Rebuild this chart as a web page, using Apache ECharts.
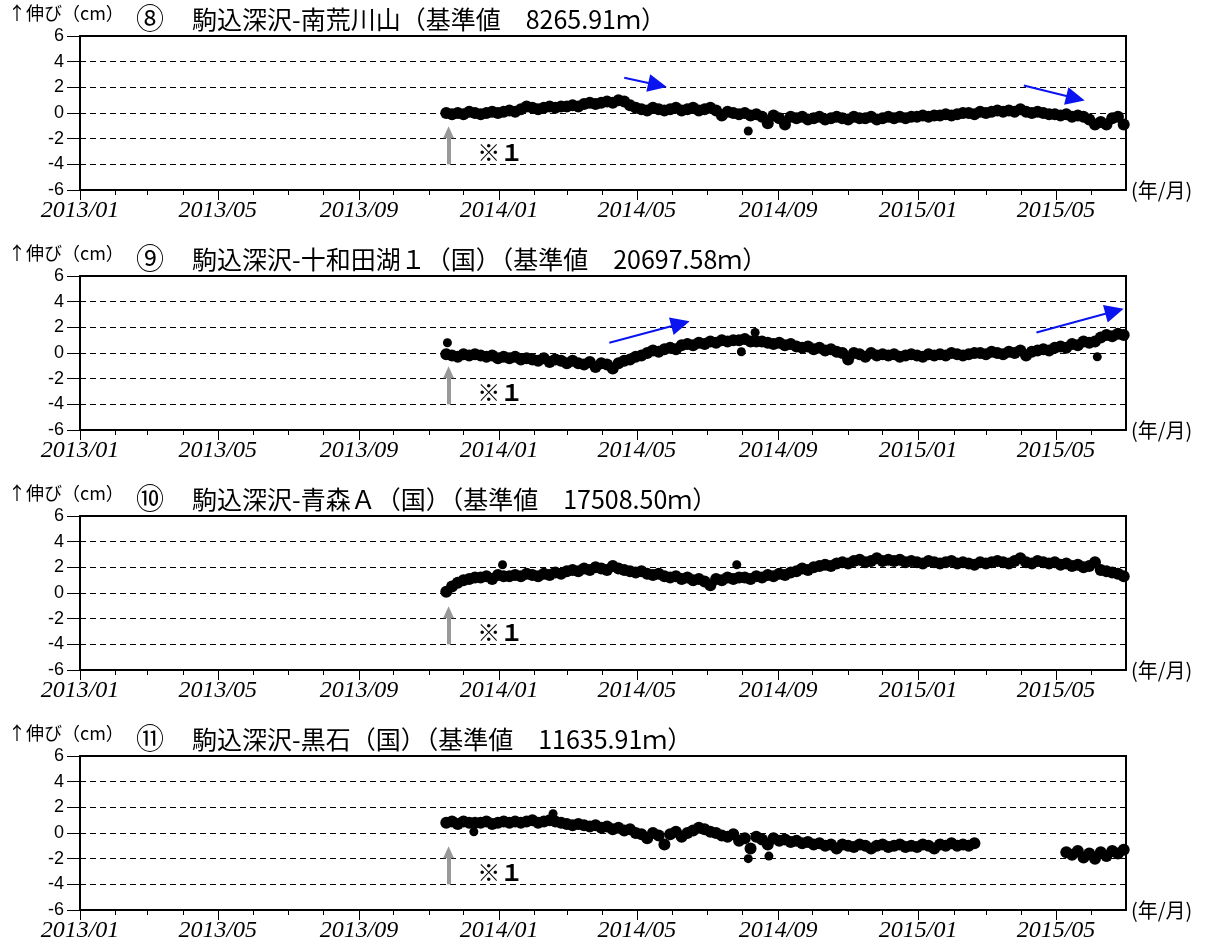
<!DOCTYPE html>
<html><head><meta charset="utf-8">
<script src="https://cdn.jsdelivr.net/npm/echarts@6/dist/echarts.min.js"></script>
<style>html,body{margin:0;padding:0;background:#fff}#c{width:1210px;height:946px}</style>
</head><body><div id="c"></div><script>
// ---- axis ticks / labels ----
const X_MIN = '2013-01-01';
const X_MAX = '2015-07-01';
const monthTicks = ['2013-01','2013-02','2013-03','2013-04','2013-05','2013-06','2013-07','2013-08','2013-09','2013-10','2013-11','2013-12',
  '2014-01','2014-02','2014-03','2014-04','2014-05','2014-06','2014-07','2014-08','2014-09','2014-10','2014-11','2014-12',
  '2015-01','2015-02','2015-03','2015-04','2015-05','2015-06'];
const labelMonths = ['2013-01','2013-05','2013-09','2014-01','2014-05','2014-09','2015-01','2015-05'];
const yMin = -6, yMax = 6, yStep = 2;

// ---- series: observations every 5 days starting at START_DATE (cm) ----
const START_DATE = '2013-11-16';
const STEP_DAYS = 5;
const p8Values = [0.0,-0.1,0.0,-0.1,0.1,0.0,-0.1,0.0,0.1,0.0,0.1,
  0.2,0.1,0.3,0.5,0.4,0.3,0.4,0.5,0.4,0.5,
  0.5,0.6,0.5,0.7,0.8,0.7,0.8,0.9,0.8,1.0,
  0.9,0.6,0.4,
  0.3,0.2,0.4,0.3,0.2,0.3,0.4,0.2,0.3,0.4,0.2,0.3,
  0.4,0.2,-0.2,0.1,0.0,
  -0.1,0.0,-0.2,-0.1,
  -0.3,-0.8,-0.2,-0.4,-0.9,-0.3,
  -0.4,-0.3,-0.5,-0.4,-0.3,-0.5,-0.4,-0.3,-0.4,-0.5,-0.3,-0.4,-0.4,-0.3,-0.5,-0.4,-0.3,-0.4,-0.3,-0.4,
  -0.3,-0.3,-0.2,-0.3,-0.2,-0.2,-0.1,-0.2,-0.1,0.0,
  0.0,-0.1,0.1,0.0,0.1,0.2,0.1,0.2,0.1,0.3,
  0.1,0.0,0.1,0.0,-0.1,
  -0.1,-0.2,-0.1,-0.3,-0.2,
  -0.3,-0.5,-0.9,-0.7,-0.9,-0.4,-0.3,-0.9];
const p8Extra = [['2014-08-06',-1.4]];

const p9Values = [-0.1,-0.2,-0.3,-0.1,-0.2,-0.1,-0.2,
  -0.3,-0.2,-0.4,-0.3,-0.4,-0.3,-0.5,-0.4,
  -0.5,-0.6,-0.4,-0.7,-0.5,-0.6,-0.8,-0.6,
  -0.8,-0.9,-0.7,-1.1,-0.8,-0.9,-1.2,-0.8,
  -0.6,-0.5,-0.3,-0.2,
  0.0,0.2,0.1,0.3,0.4,0.3,0.6,
  0.7,0.6,0.8,0.7,0.9,0.8,1.0,0.9,
  1.0,1.0,1.1,0.9,
  0.9,
  0.9,0.8,0.7,0.8,0.6,0.7,
  0.5,0.4,0.5,0.3,0.4,0.2,0.3,0.1,
  0.0,-0.5,0.0,-0.1,-0.3,0.0,-0.2,-0.1,
  -0.2,-0.1,-0.3,-0.2,-0.1,-0.2,-0.3,-0.1,-0.2,-0.1,-0.2,0.0,-0.1,-0.2,-0.1,0.0,
  0.0,-0.1,0.1,0.0,-0.1,0.1,0.0,0.2,-0.2,0.1,0.2,
  0.3,0.2,0.4,0.5,0.4,0.7,
  0.6,0.9,0.8,
  0.9,
  1.2,1.4,1.3,1.5,1.4];
const p9Extra = [['2013-11-17',0.8],['2014-07-31',0.1],['2014-08-12',1.6],['2015-06-06',-0.3]];

const p10Values = [0.1,0.5,0.8,1.0,1.1,1.2,
  1.2,1.3,1.1,1.4,1.3,
  1.3,1.4,1.3,1.5,1.4,1.3,1.5,1.4,1.6,1.5,
  1.7,1.8,1.7,1.9,1.8,2.0,1.9,1.8,2.1,1.9,
  1.8,1.7,1.6,1.7,1.5,1.4,1.5,1.3,
  1.2,1.3,1.1,1.2,1.0,1.1,0.9,0.6,1.1,1.0,1.2,1.1,
  1.2,
  1.2,1.1,1.3,1.2,1.4,1.3,1.5,1.4,1.6,
  1.7,1.9,1.8,2.0,2.1,2.2,2.1,2.3,
  2.4,2.3,2.5,2.6,2.4,2.5,2.7,2.5,2.6,
  2.5,2.6,2.4,2.5,2.4,2.3,2.5,2.4,2.3,2.4,2.5,2.3,2.4,2.3,2.2,2.4,2.3,2.4,
  2.5,2.4,2.3,2.5,2.7,2.4,2.3,2.5,2.4,2.3,2.4,
  2.2,2.3,2.1,2.2,2.0,2.1,
  2.4,
  1.8,1.7,1.6,1.5,1.3];
const p10Extra = [['2014-01-04',2.2],['2014-07-27',2.2]];

const p11Values = [0.8,0.9,0.7,0.9,0.8,0.8,0.8,0.9,0.7,0.8,0.9,
  0.8,0.9,0.8,0.9,1.0,0.8,0.9,1.0,
  0.9,
  0.8,0.7,0.6,0.7,0.6,0.5,0.6,
  0.4,0.5,0.3,0.4,0.2,0.3,0.0,
  -0.1,-0.4,0.0,-0.2,-0.9,-0.1,0.1,-0.3,
  0.0,0.2,0.4,0.3,0.1,0.0,-0.2,
  -0.3,-0.1,-0.6,-0.4,-1.2,-0.3,-0.5,-0.9,
  -0.4,-0.6,-0.5,-0.7,-0.6,-0.8,-0.7,-0.9,
  -0.8,-1.0,-0.9,-1.2,-0.9,-1.0,-1.1,-0.9,-1.0,-1.2,-1.0,-0.9,-1.1,-1.0,-0.9,-1.1,
  -1.0,-1.1,-0.9,-1.0,-1.2,-0.9,-1.0,-0.8,-1.0,-0.9,-1.0,-0.8,
  null,null,null,null,null,null,null,null,null,null,null,null,null,null,null,
  -1.5,-1.7,-1.4,-1.9,-1.6,-2.0,-1.5,-1.8,-1.4,-1.6,-1.3];
const p11Extra = [['2013-12-10',0.1],['2014-02-17',1.5],['2014-08-06',-2.0],['2014-08-24',-1.8]];

// ---- titles ----
const yUnitLabel = '↑伸び（cm）';
const panelNumbers = ['⑧','⑨','⑩','⑪'];
const panelTitles = [
  '駒込深沢-南荒川山（基準値　8265.91ｍ）',
  '駒込深沢-十和田湖１（国）（基準値　20697.58ｍ）',
  '駒込深沢-青森Ａ（国）（基準値　17508.50ｍ）',
  '駒込深沢-黒石（国）（基準値　11635.91ｍ）'
];
const xUnitName = '(年/月)';
const noteText = '※１';

// ---- annotations (data coordinates; arrow end = centre of head) ----
const grayArrow = {date:'2013-11-18', from:-4, to:-1.5};
const noteAt = {date:'2014-01-02', value:-3.05};
const blueArrows = [
  [['2014-04-20',2.75,'2014-05-19',2.18],['2015-04-03',2.15,'2015-05-18',1.15]],
  [['2014-04-07',0.8,'2014-06-08',2.28],['2015-04-14',1.6,'2015-06-21',3.25]],
  [],
  []
];

const ts = s => Date.parse(s.length === 7 ? s + '-01T00:00:00Z' : s + 'T00:00:00Z');
const DAY = 86400000;
const allValues = [p8Values, p9Values, p10Values, p11Values];
const allExtra = [p8Extra, p9Extra, p10Extra, p11Extra];

const chart = echarts.init(document.getElementById('c'), null, {renderer:'canvas'});
const grids = [], xAxes = [], yAxes = [], series = [], titles = [];
const PANEL_TOP = 36, PANEL_GAP = 240, PANEL_H = 154;
const fontJP = '"Noto Sans CJK JP", "Noto Sans", sans-serif';

for (let k = 0; k < 4; k++) {
  const top = PANEL_TOP + k * PANEL_GAP;
  grids.push({left:80, top:top, width:1046, height:PANEL_H, show:true, borderColor:'#000', borderWidth:2, backgroundColor:'transparent'});
  xAxes.push({
    gridIndex:k, type:'value', position:'bottom', min:ts(X_MIN), max:ts(X_MAX),
    axisLine:{show:true, onZero:false, lineStyle:{color:'#000', width:2}},
    axisTick:{show:true, inside:false, length:5, customValues:monthTicks.map(ts), lineStyle:{color:'#000', width:1}},
    axisLabel:{show:false}, splitLine:{show:false},
    name:xUnitName, nameLocation:'end', nameGap:5,
    nameTextStyle:{fontSize:20, color:'#000', fontFamily:fontJP}
  });
  xAxes.push({
    gridIndex:k, type:'value', position:'bottom', offset:0, min:ts(X_MIN), max:ts(X_MAX),
    axisLine:{show:false, onZero:false},
    axisTick:{show:true, inside:false, length:10, customValues:labelMonths.map(ts), lineStyle:{color:'#000', width:1}},
    axisLabel:{show:true, customValues:labelMonths.map(ts), margin:9, color:'#000', fontSize:24,
      fontStyle:'italic', fontFamily:'"Liberation Serif", "DejaVu Serif", serif',
      formatter: v => { const d = new Date(v); return d.getUTCFullYear() + '/' + String(d.getUTCMonth()+1).padStart(2,'0'); }},
    splitLine:{show:false}
  });
  yAxes.push({
    gridIndex:k, type:'value', min:yMin, max:yMax, interval:yStep,
    axisLine:{show:true, onZero:false, lineStyle:{color:'#000', width:2}},
    axisTick:{show:true, inside:false, length:13, lineStyle:{color:'#000', width:1}},
    axisLabel:{margin:16, color:'#000', fontSize:18, fontFamily:'"Liberation Sans", Arial, sans-serif'},
    splitLine:{show:true, lineStyle:{color:'#000', width:1, type:[6,4]}}
  });
  const vals = allValues[k];
  const data = [];
  vals.forEach((v, i) => { if (v !== null) data.push([ts(START_DATE) + i * STEP_DAYS * DAY, v]); });
  series.push({
    type:'scatter', xAxisIndex:2*k, yAxisIndex:k, data:data, symbol:'circle', symbolSize:12,
    itemStyle:{color:'#000', opacity:1}, silent:true, z:3
  });
  series.push({
    type:'scatter', xAxisIndex:2*k, yAxisIndex:k, data:allExtra[k].map(([d, v]) => [ts(d), v]),
    symbol:'circle', symbolSize:9, itemStyle:{color:'#000', opacity:1}, silent:true, z:3
  });
  // gray arrow + note
  series.push({
    type:'scatter', xAxisIndex:2*k, yAxisIndex:k, data:[], silent:true, z:4,
    markLine:{silent:true, animation:false, symbol:['none','triangle'], symbolSize:[11,12],
      lineStyle:{color:'#999', width:4, type:'solid'}, label:{show:false},
      data:[[{coord:[ts(grayArrow.date), grayArrow.from]}, {coord:[ts(grayArrow.date), grayArrow.to]}]]},
    markPoint:{silent:true, animation:false, symbol:'circle', symbolSize:1, itemStyle:{color:'transparent'},
      label:{show:true, position:'inside', formatter:noteText, color:'#000', fontSize:23, fontWeight:'bold', fontFamily:fontJP},
      data:[{coord:[ts(noteAt.date), noteAt.value]}]}
  });
  if (blueArrows[k].length) {
    series.push({
      type:'scatter', xAxisIndex:2*k, yAxisIndex:k, data:[], silent:true, z:5,
      markLine:{silent:true, animation:false, symbol:['none','triangle'], symbolSize:[18,19],
        lineStyle:{color:'#0a14f0', width:2, type:'solid'}, label:{show:false},
        itemStyle:{color:'#0a14f0'},
        data:blueArrows[k].map(a => [{coord:[ts(a[0]), a[1]]}, {coord:[ts(a[2]), a[3]]}])}
    });
  }
  titles.push({text:yUnitLabel, left:8, top:top - 32, padding:0,
    textStyle:{fontSize:18, fontWeight:'normal', color:'#000', fontFamily:fontJP}});
  titles.push({text:panelNumbers[k], left:136, top:top - 32, padding:0,
    textStyle:{fontSize:28, fontWeight:'normal', color:'#000', fontFamily:fontJP}});
  titles.push({text:panelTitles[k], left:192, top:top - 29, padding:0,
    textStyle:{fontSize:25, fontWeight:'normal', color:'#000', fontFamily:fontJP}});
}

chart.setOption({
  animation:false,
  backgroundColor:'#fff',
  title:titles, grid:grids, xAxis:xAxes, yAxis:yAxes, series:series
});
</script></body></html>
